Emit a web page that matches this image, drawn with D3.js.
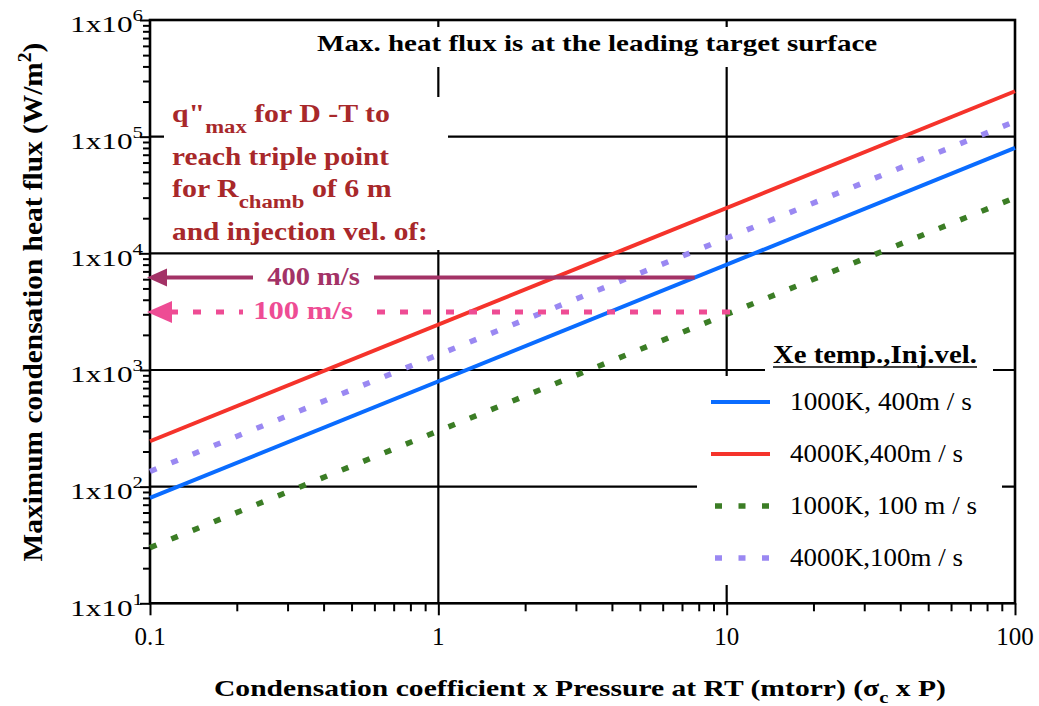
<!DOCTYPE html>
<html>
<head>
<meta charset="utf-8">
<script src="https://cdn.jsdelivr.net/npm/d3@7"></script>
<style>
  body { margin: 0; background: #fff; }
  svg { display: block; }
  text { font-family: "Liberation Serif", "Times New Roman", serif; }
</style>
</head>
<body>
<svg id="chart" width="1039" height="706"></svg>
<script>
// ---- data ----
const pressureEnds = [0.1, 100];                       // mtorr (sigma_c x P)
const seriesNames = ["1000K, 400m / s", "4000K,400m / s", "1000K, 100 m / s", "4000K,100m / s"];
const fluxAtLowP  = [80, 245, 30, 135];                 // W/m^2 at 0.1 mtorr
const fluxAtHighP = [80000, 245000, 30000, 135000];     // W/m^2 at 100 mtorr
const yTickExponents = [1, 2, 3, 4, 5, 6];
const xTickValues = [0.1, 1, 10, 100];
const xTickLabels = ["0.1", "1", "10", "100"];
const arrowLabels = ["400 m/s", "100 m/s"];
const arrowFlux = [6200, 3140];                         // q"max needed for triple point
const arrowEndP = [7.75, 10.5];                         // where each level meets its 1000K curve

// ---- styles ----
const seriesColors = ["#0a6cff", "#f5332b", "#3b7d25", "#9a88f2"];
const seriesDashed = [false, false, true, true];
const arrowColors = ["#a33266", "#ee4c94"];
const noteColor = "#a8282a";

const svg = d3.select("#chart");
const W = 1039, H = 706;
const x = d3.scaleLog().domain([0.1, 100]).range([150, 1015]);
const y = d3.scaleLog().domain([10, 1e6]).range([603.3, 20]);
const [x0, x1] = x.range();
const [yb, yt] = y.range();

// stretch a text node horizontally about an anchor so it spans the given width
function fit(sel, width, ax) {
  sel.each(function () {
    const w = this.getBBox().width;
    const s = width / w;
    d3.select(this).attr("transform", `translate(${ax},0) scale(${s},1) translate(${-ax},0)`);
  });
}

// ---- grid ----
const grid = svg.append("g").attr("stroke", "#000").attr("stroke-width", 2.2);
[1, 10].forEach(v => grid.append("line")
  .attr("x1", x(v)).attr("x2", x(v)).attr("y1", yt).attr("y2", yb));
[1e2, 1e3, 1e4, 1e5].forEach(v => grid.append("line")
  .attr("x1", x0).attr("x2", x1).attr("y1", y(v)).attr("y2", y(v)));

// white panels that keep the grid clear behind the notes and the legend
const panels = [
  [300, 27, 590, 40],    // title band
  [164, 97, 284, 153],   // note block
  [697, 376, 305, 209],  // legend body
  [765, 343, 228, 33]    // legend heading
];
svg.append("g").selectAll("rect").data(panels).join("rect")
  .attr("x", d => d[0]).attr("y", d => d[1]).attr("width", d => d[2]).attr("height", d => d[3])
  .attr("fill", "#fff");

// ---- frame and ticks ----
svg.append("rect").attr("x", x0).attr("y", yt).attr("width", x1 - x0).attr("height", yb - yt)
  .attr("fill", "none").attr("stroke", "#000").attr("stroke-width", 2.6);

const yMinor = [], yMajor = yTickExponents.map(e => Math.pow(10, e));
for (let e = 1; e < 6; e++) for (let m = 2; m <= 9; m++) yMinor.push(m * Math.pow(10, e));
const xMinor = [], xMajor = xTickValues;
for (let e = -1; e < 2; e++) for (let m = 2; m <= 9; m++) xMinor.push(m * Math.pow(10, e));

function tickAxis(axis, tx, ty) {
  const g = svg.append("g").attr("transform", `translate(${tx},${ty})`).call(axis);
  g.select(".domain").remove();
  g.selectAll("line").attr("stroke", "#000").attr("stroke-width", 2);
  g.selectAll("text").remove();
}
tickAxis(d3.axisLeft(y).tickValues(yMinor).tickSize(7).tickFormat(""), x0, 0);
tickAxis(d3.axisLeft(y).tickValues(yMajor).tickSize(10).tickFormat(""), x0, 0);
tickAxis(d3.axisBottom(x).tickValues(xMinor).tickSize(8).tickFormat(""), 0, yb);
tickAxis(d3.axisBottom(x).tickValues(xMajor).tickSize(12).tickFormat(""), 0, yb);

// ---- tick labels ----
yTickExponents.forEach(e => {
  const t = svg.append("text").attr("x", 143).attr("y", y(Math.pow(10, e)) + 12.5)
    .attr("text-anchor", "end").attr("font-size", 24).attr("fill", "#000");
  t.append("tspan").text("1x10");
  t.append("tspan").attr("font-size", 16).attr("dy", -11).text(e);
  fit(t, 73, 143);
});
xTickValues.forEach((v, i) => {
  svg.append("text").attr("x", x(v)).attr("y", 645).attr("text-anchor", "middle")
    .attr("font-size", 25).attr("fill", "#000").text(xTickLabels[i]);
});

// ---- series ----
const line = d3.line().x(d => x(d.p)).y(d => y(d.q));
seriesNames.forEach((name, i) => {
  const pts = [{ p: pressureEnds[0], q: fluxAtLowP[i] }, { p: pressureEnds[1], q: fluxAtHighP[i] }];
  svg.append("path").attr("d", line(pts)).attr("fill", "none")
    .attr("stroke", seriesColors[i])
    .attr("stroke-width", seriesDashed[i] ? 5.5 : 4)
    .attr("stroke-dasharray", seriesDashed[i] ? "7,16" : null);
});

// ---- arrows for the triple-point heat flux ----
const arrowLabelCx = [313.5, 303], arrowLabelW = [93, 100];
arrowLabels.forEach((lab, i) => {
  const yy = y(arrowFlux[i]);
  const tip = x(0.1) - 3;
  const headLen = i === 0 ? 20 : 25, headHalf = i === 0 ? 9 : 11;
  svg.append("line").attr("x1", tip + headLen - 2).attr("x2", x(arrowEndP[i]))
    .attr("y1", yy).attr("y2", yy)
    .attr("stroke", arrowColors[i]).attr("stroke-width", i === 0 ? 4 : 5)
    .attr("stroke-dasharray", i === 0 ? null : "8,15");
  svg.append("path")
    .attr("d", `M${tip},${yy} L${tip + headLen},${yy - headHalf} L${tip + headLen},${yy + headHalf} Z`)
    .attr("fill", arrowColors[i]);
  const pad = i === 0 ? 14 : 10;
  svg.append("rect").attr("x", arrowLabelCx[i] - arrowLabelW[i] / 2 - pad).attr("y", yy - 7)
    .attr("width", arrowLabelW[i] + 2 * pad).attr("height", 14).attr("fill", "#fff");
  const t = svg.append("text").attr("x", arrowLabelCx[i]).attr("y", yy + 7)
    .attr("text-anchor", "middle").attr("font-size", 25).attr("font-weight", "bold")
    .attr("fill", arrowColors[i]).text(lab);
  fit(t, arrowLabelW[i], arrowLabelCx[i]);
});

// ---- note block ----
const noteX = 172;
function note(yy, width, parts) {
  const t = svg.append("text").attr("x", noteX).attr("y", yy)
    .attr("font-size", 25).attr("font-weight", "bold").attr("fill", noteColor);
  parts.forEach(p => {
    const s = t.append("tspan").text(p.t);
    if (p.sub) s.attr("font-size", 19).attr("dy", 11);
    if (p.back) s.attr("dy", -11);
  });
  fit(t, width, noteX);
}
note(122, 218, [{ t: "q\"" }, { t: "max", sub: true }, { t: "  for D -T to", back: true }]);
note(165, 218, [{ t: "reach triple point" }]);
note(197, 220, [{ t: "for R" }, { t: "chamb", sub: true }, { t: " of 6 m", back: true }]);
note(240, 256, [{ t: "and injection vel. of:" }]);

// ---- title ----
const title = svg.append("text").attr("x", 317).attr("y", 51)
  .attr("font-size", 24).attr("font-weight", "bold").attr("fill", "#000")
  .text("Max. heat flux is at the leading target surface");
fit(title, 561, 317);

// ---- legend ----
const lgHead = svg.append("text").attr("x", 773).attr("y", 363)
  .attr("font-size", 26).attr("font-weight", "bold").attr("fill", "#000")
  .text("Xe temp.,Inj.vel.");
fit(lgHead, 204, 773);
svg.append("line").attr("x1", 773).attr("x2", 977).attr("y1", 367).attr("y2", 367)
  .attr("stroke", "#000").attr("stroke-width", 1.6);
const lgRowY = [402, 454, 506, 558];
const lgTextW = [182, 173, 187, 173];
seriesNames.forEach((name, i) => {
  svg.append("line")
    .attr("x1", seriesDashed[i] ? 715 : 711).attr("x2", 770)
    .attr("y1", lgRowY[i]).attr("y2", lgRowY[i])
    .attr("stroke", seriesColors[i])
    .attr("stroke-width", seriesDashed[i] ? 5.5 : 4)
    .attr("stroke-dasharray", seriesDashed[i] ? "7,16.5" : null);
  const t = svg.append("text").attr("x", 790).attr("y", lgRowY[i] + 8)
    .attr("font-size", 26).attr("fill", "#000").text(name);
  fit(t, lgTextW[i], 790);
});

// ---- axis titles ----
const xTitle = svg.append("text").attr("x", 214).attr("y", 696)
  .attr("font-size", 23).attr("font-weight", "bold").attr("fill", "#000");
xTitle.append("tspan").text("Condensation coefficient x Pressure at RT (mtorr)  (\u03c3");
xTitle.append("tspan").attr("font-size", 16).attr("dy", 7).text("c");
xTitle.append("tspan").attr("dy", -7).text(" x  P)");
fit(xTitle, 732, 214);

const yTitleG = svg.append("g").attr("transform", "translate(42,302) rotate(-90)");
const yTitle = yTitleG.append("text").attr("x", 0).attr("y", 0).attr("text-anchor", "middle")
  .attr("font-size", 27).attr("font-weight", "bold").attr("fill", "#000");
yTitle.append("tspan").text("Maximum condensation heat flux (W/m");
yTitle.append("tspan").attr("font-size", 18).attr("dy", -11).text("2");
yTitle.append("tspan").attr("dy", 11).text(")");
fit(yTitle, 519, 0);
</script>
</body>
</html>
